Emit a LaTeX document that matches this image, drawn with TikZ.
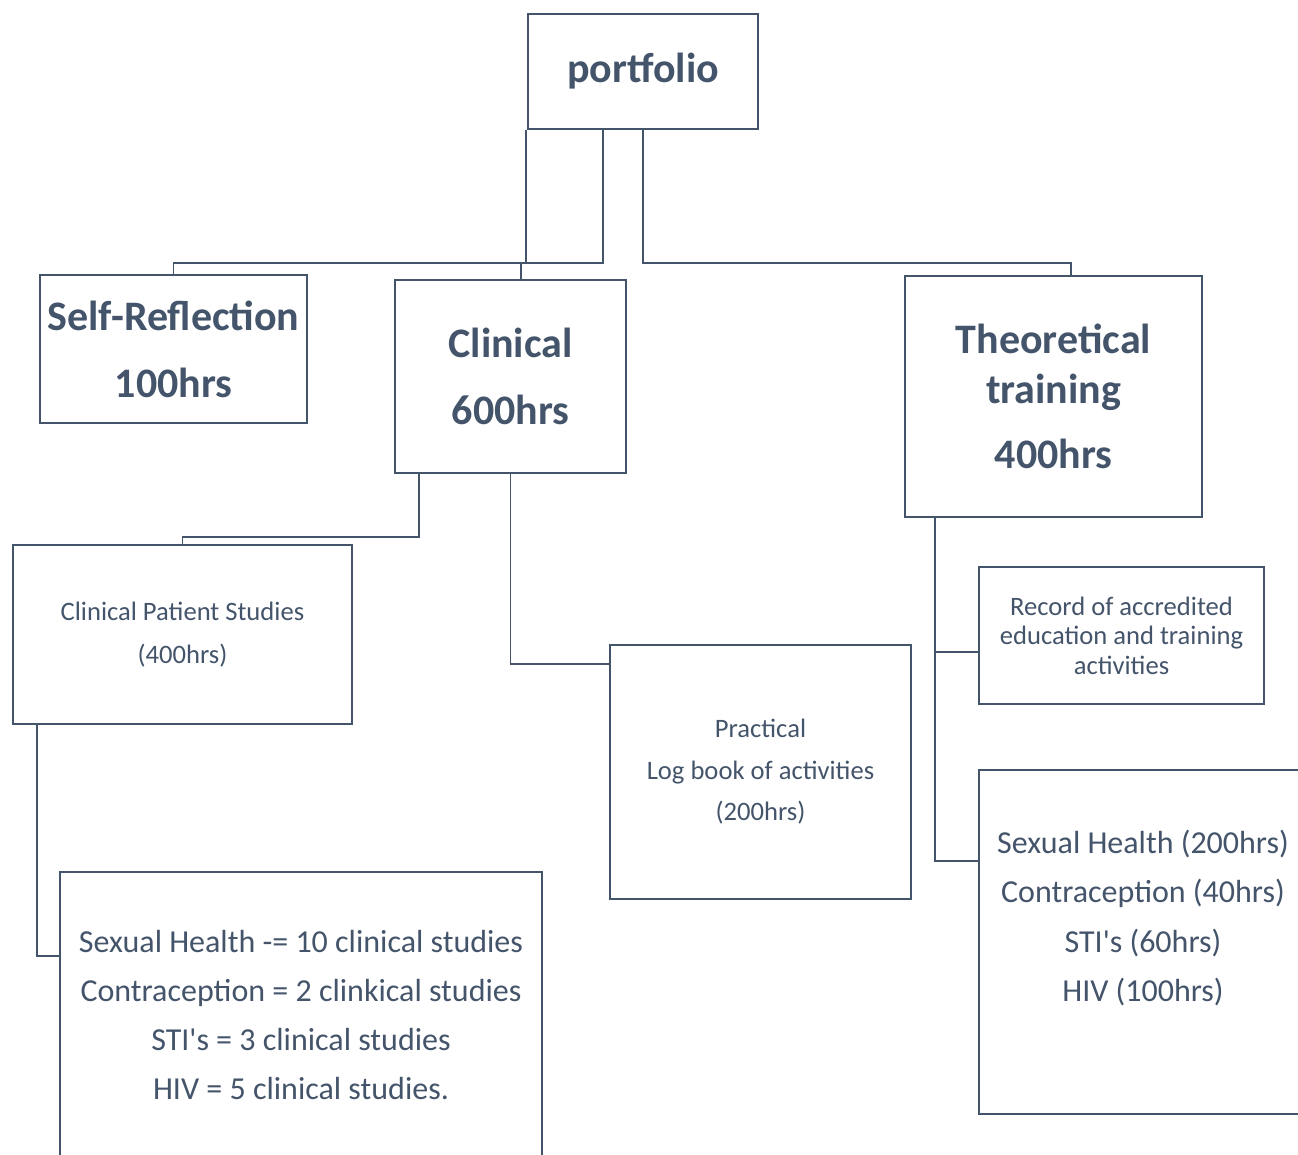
\documentclass[tikz,border=0pt]{standalone}
\usepackage{fontspec}
\setmainfont{Carlito}
\definecolor{slate}{HTML}{44546A}
\begin{document}
\begin{tikzpicture}[x=1pt,y=-1pt,
  conn/.style={draw=slate,line width=1.9pt},
  box/.style={draw=slate,line width=1.9pt,rectangle,inner sep=0pt,align=center,text=slate},
  bigbox/.style={box,font={\fontsize{42}{50}\selectfont\bfseries}},
  smallbox/.style={box,font={\fontsize{26.6}{29.5}\selectfont}},
  midbox/.style={box,font={\fontsize{32}{49}\selectfont}},
  midtext/.style={align=center,text=slate,inner sep=0pt,font={\fontsize{32}{49.5}\selectfont}}
]
\useasboundingbox (0,0) rectangle (1298,1155);

% top level
\node[bigbox,minimum width=230pt,minimum height=115pt] (pf) at (643,71.5) {portfolio};
\node[bigbox,minimum width=267pt,minimum height=148pt] (sr) at (173.5,349) {Self-Reflection\\[17pt]100hrs};
\node[bigbox,minimum width=231pt,minimum height=193pt] (cl) at (510.5,376.5) {Clinical\\[17pt]600hrs};
\node[bigbox,minimum width=297pt,minimum height=241pt] (th) at (1053.5,396.5) {Theoretical\\training\\[15pt]400hrs};

% second level
\node[smallbox,minimum width=339pt,minimum height=179pt] (cps) at (182.5,634.5) {Clinical Patient Studies\\[13pt](400hrs)};
\node[smallbox,minimum width=301pt,minimum height=254pt] (pr) at (760.5,772) {Practical\\[12pt]Log book of activities\\[12pt](200hrs)};
\node[smallbox,minimum width=285pt,minimum height=137pt] (rec) at (1121.5,635.5) {Record of accredited\\education and training\\activities};
\node[box,minimum width=328pt,minimum height=344pt] (tb) at (1143,942) {};
\node[midtext] (tbt) at (1143,918) {Sexual Health (200hrs)\\Contraception (40hrs)\\STI\textquotesingle s (60hrs)\\HIV (100hrs)};
\node[midbox,minimum width=482pt,minimum height=286pt] (cs) at (301,1015) {Sexual Health -= 10 clinical studies\\Contraception = 2 clinkical studies\\STI\textquotesingle s = 3 clinical studies\\HIV = 5 clinical studies.};

% helper coordinates
\coordinate (b1) at (603,263);
\coordinate (k1) at (0,537);
\coordinate (clin) at ([xshift=10.5pt]cl.north);
\coordinate (thin) at ([xshift=17.5pt]th.north);
\coordinate (clo) at ([xshift=25pt]cl.south west);
\coordinate (prin) at ([yshift=-20pt]pr.north west);
\coordinate (cpo) at ([xshift=25pt]cps.south west);
\coordinate (csin) at ([yshift=-85pt]cs.north west);
\coordinate (tho) at ([xshift=31pt]th.south west);
\coordinate (recin) at ([yshift=-86pt]rec.north west);
\coordinate (tbin) at ([yshift=-92pt]tb.north west);

% connectors
\draw[conn] ([xshift=-1.5pt]pf.south west) |- (b1) -- (pf.south -| b1);
\draw[conn] (sr.north) |- (b1);
\draw[conn] (clin) -- (clin |- b1);
\draw[conn] (pf.south) |- (thin |- b1) -- (thin);
\draw[conn] (clo) |- (k1 -| cps.north) -- (cps.north);
\draw[conn] (cl.south) |- (prin);
\draw[conn] (cpo) |- (csin);
\draw[conn] (tho) |- (recin);
\draw[conn] (tho) |- (tbin);
\end{tikzpicture}
\end{document}
